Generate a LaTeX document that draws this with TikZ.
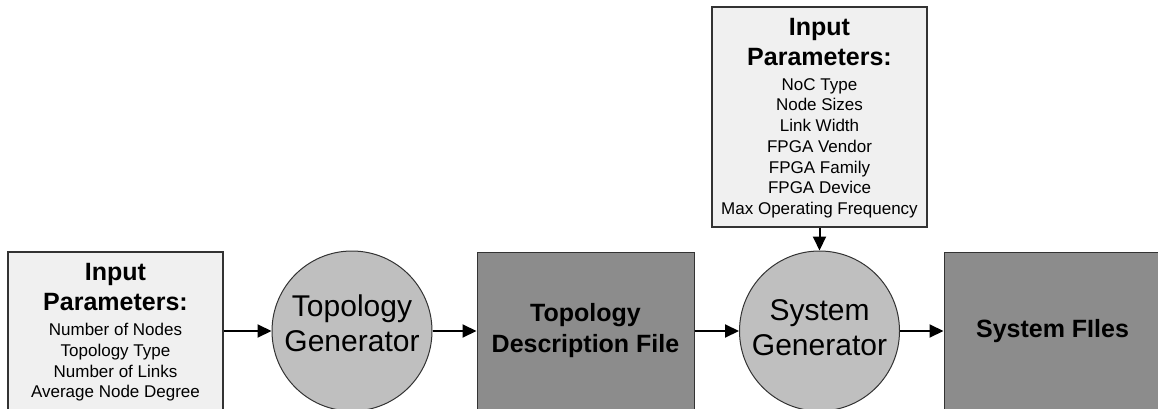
\documentclass[tikz,border=0pt]{standalone}
\usepackage{fontspec}
\setmainfont{Liberation Sans}
\usetikzlibrary{positioning, arrows.meta}

\begin{document}
\begin{tikzpicture}[x=1pt, y=-1pt,
		inbox/.style = {draw=black!80, line width=1.3pt, fill=black!6, minimum width=215pt, inner sep=0pt},
		gen/.style = {circle, draw=black!80, line width=1pt, fill=black!25, minimum size=160pt, inner sep=0pt, align=center, font=\fontsize{30}{35}\selectfont},
		filebox/.style = {draw=black!80, line width=1pt, fill=black!45, minimum width=217pt, minimum height=158pt, inner sep=0pt, align=center, font=\fontsize{25}{31}\selectfont\bfseries},
		title/.style = {inner sep=0pt, align=center, font=\fontsize{25}{30}\selectfont\bfseries},
		params/.style = {inner sep=0pt, align=center, font=\fontsize{17}{20.7}\selectfont},
		flow/.style = {line width=2pt, -{Triangle[length=14pt, width=13pt]}}]
		\useasboundingbox (0, 0) rectangle (1158, 409);
		\clip (0, 0) rectangle (1158, 409);
		%%%%%%%%%%%%%
		\node [inbox, minimum height=158pt] (inL) at (115.5, 331) {};
		\node [title, anchor=north] (inLtitle) at ([yshift=-12pt]inL.north) {Input\\Parameters:};
		\node [params, below=12pt of inLtitle] (inLlist) {Number of Nodes\\Topology Type\\Number of Links\\Average Node Degree};
		\node [gen, text depth=15pt] (tg) at (352, 331) {Topology\\Generator};
		\node [filebox] (tdf) at (585.5, 331) {Topology\\Description File};
		\node [gen, text depth=6.5pt] (sg) at (819.5, 331) {System\\Generator};
		\node [filebox] (sf) at (1052.5, 331) {System FIles};
		%%%%%%%%%%%%%
		\node [inbox, minimum height=220pt] (inT) at (819.5, 117) {};
		\node [title, anchor=north] (inTtitle) at ([yshift=-12pt]inT.north) {Input\\Parameters:};
		\node [params, below=12pt of inTtitle] (inTlist) {NoC Type\\Node Sizes\\Link Width\\FPGA Vendor\\FPGA Family\\FPGA Device\\Max Operating Frequency};
		%%%%%%%%%%%%%
		\draw [flow] (inL) to (tg);
		\draw [flow] (tg) to (tdf);
		\draw [flow] (tdf) to (sg);
		\draw [flow] (sg) to (sf);
		\draw [flow] (inT) to (sg);
\end{tikzpicture}
\end{document}
